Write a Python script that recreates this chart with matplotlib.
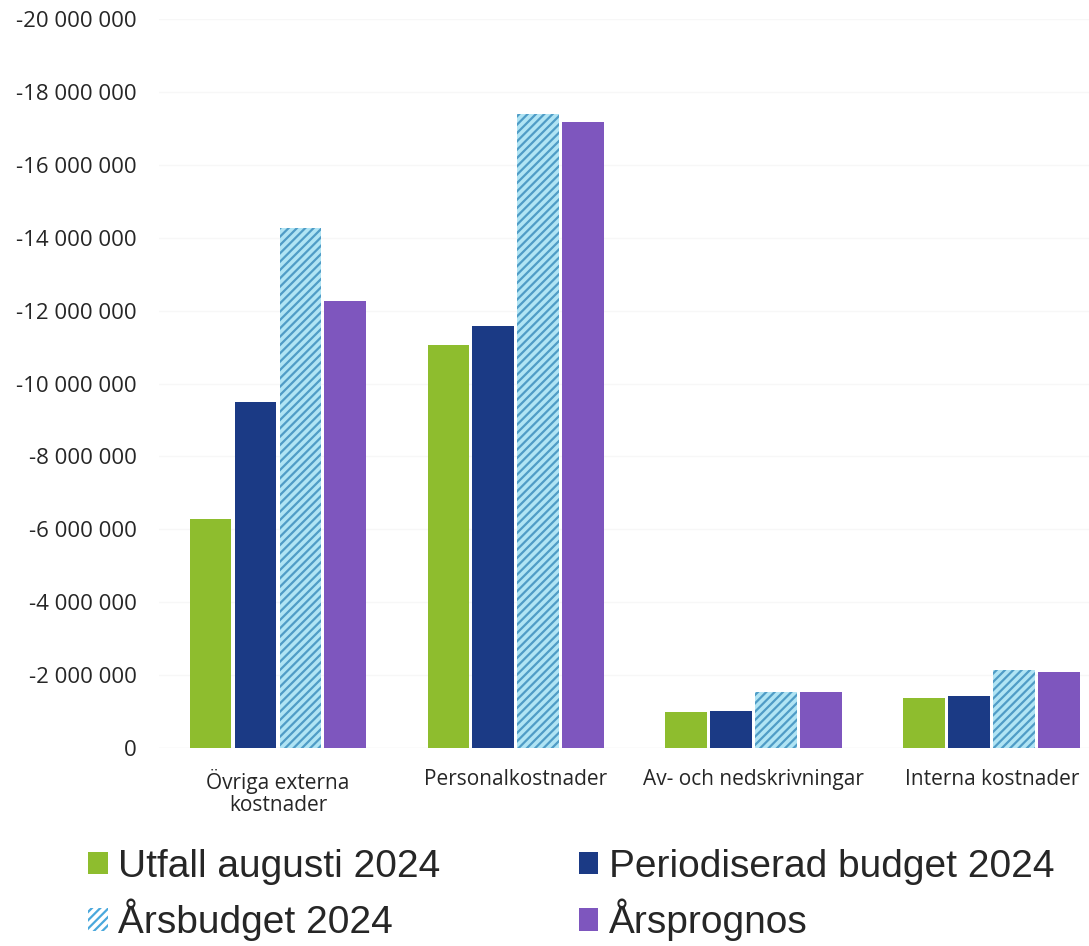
import matplotlib
matplotlib.use("Agg")
import matplotlib.pyplot as plt
from matplotlib.patches import Patch
import numpy as np

categories = ["Övriga externa\nkostnader", "Personalkostnader", "Av- och nedskrivningar", "Interna kostnader"]
series_names = ["Utfall augusti 2024", "Periodiserad budget 2024", "Årsbudget 2024", "Årsprognos"]
utfall = [-6_280_000, -11_060_000, -990_000, -1_370_000]
periodiserad = [-9_490_000, -11_580_000, -1_020_000, -1_430_000]
arsbudget = [-14_270_000, -17_390_000, -1_540_000, -2_140_000]
arsprognos = [-12_260_000, -17_170_000, -1_540_000, -2_090_000]
yticks = [0, -2_000_000, -4_000_000, -6_000_000, -8_000_000, -10_000_000,
          -12_000_000, -14_000_000, -16_000_000, -18_000_000, -20_000_000]

green = "#8ebd2e"
navy = "#1b3a85"
hatch_bg = "#b0e4f4"
hatch_fg = "#4f9cc6"
purple = "#7e56be"

plt.rcParams['hatch.linewidth'] = 1.6
fig = plt.figure(figsize=(10.89, 9.46), dpi=100)
ax = fig.add_axes([0.146, 0.2093, 0.874, 0.7706])

x = np.arange(len(categories))
w = 0.176
step = 0.189
offs = [-1.5 * step, -0.5 * step, 0.5 * step, 1.5 * step]

ax.bar(x + offs[0], utfall, w, color=green, linewidth=0, zorder=3)
ax.bar(x + offs[1], periodiserad, w, color=navy, linewidth=0, zorder=3)
ax.bar(x + offs[2], arsbudget, w, color=hatch_bg, edgecolor=hatch_fg, hatch="////", linewidth=0, zorder=3)
ax.bar(x + offs[3], arsprognos, w, color=purple, linewidth=0, zorder=3)

ax.set_ylim(0, -20_000_000)
ax.set_xlim(-0.5, len(categories) - 0.5)
ax.set_yticks(yticks)
ax.set_yticklabels([f"{v:,}".replace(",", " ") for v in yticks])
ax.set_xticks(x)
ax.set_xticklabels(categories)
for s in ax.spines.values():
    s.set_visible(False)
ax.tick_params(axis='both', length=0, labelcolor="#262626")
ax.tick_params(axis='y', pad=16, labelsize=16)
ax.tick_params(axis='x', pad=15, labelsize=15)
for lab in ax.get_xticklabels() + ax.get_yticklabels():
    lab.set_fontfamily("Open Sans")
    lab.set_linespacing(1.1)
ax.yaxis.grid(True, color="#f7f7f7", linewidth=1, zorder=0)
ax.axhline(0, color="#f0f0f0", linewidth=1, zorder=1)

h_utfall = Patch(facecolor=green, linewidth=0)
h_period = Patch(facecolor=navy, linewidth=0)
h_arsb = Patch(facecolor="white", edgecolor="#4aa8dc", hatch="////", linewidth=0)
h_prog = Patch(facecolor=purple, linewidth=0)
# matplotlib fills legend columns first; order so rows read like the reference
handles = [h_utfall, h_arsb, h_period, h_prog]
labels = [series_names[0], series_names[2], series_names[1], series_names[3]]
leg = fig.legend(handles, labels, loc="lower left", bbox_to_anchor=(0.049, -0.032),
                 ncol=2, frameon=False, prop={"family": "Liberation Sans", "size": 28},
                 handlelength=0.5, handleheight=0.5, handletextpad=0.27,
                 columnspacing=3.55, labelspacing=0.36, labelcolor="#262626")

fig.savefig("out.png", dpi=100)
